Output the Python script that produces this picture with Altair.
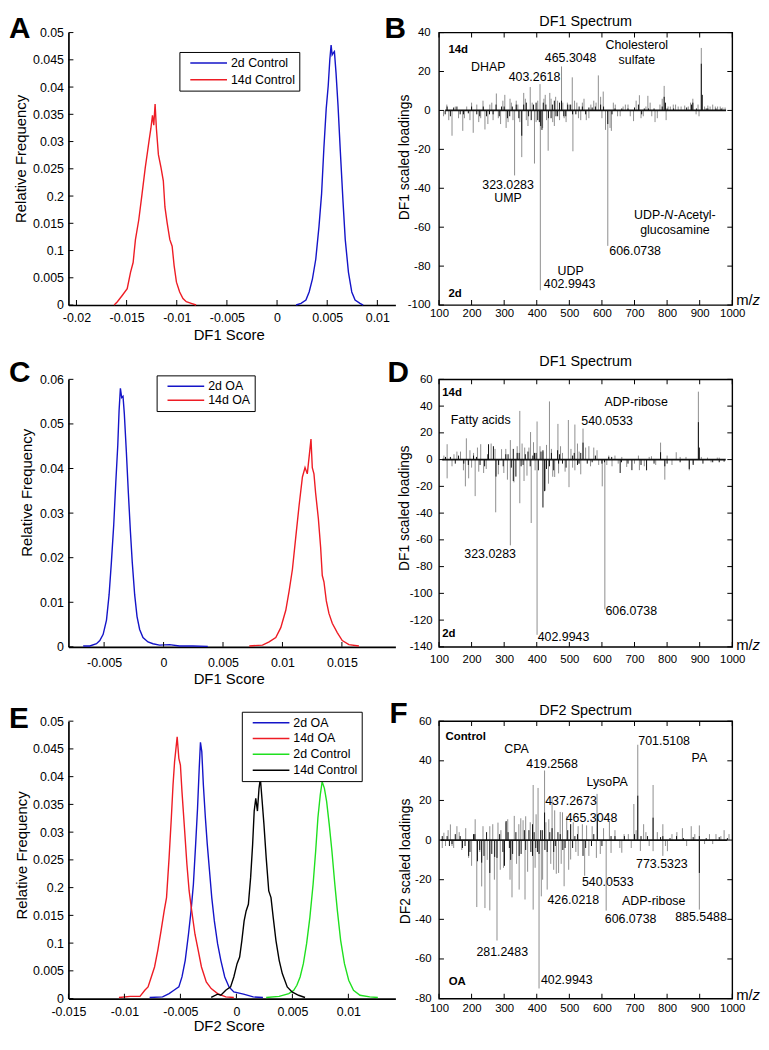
import altair as alt
import pandas as pd

FONT = "Liberation Sans"
BLUE = "#1414c8"
RED = "#ee1c24"
GREEN = "#1fe01f"
BLACK = "#000000"
GRAY = "#8e8e8e"
STICK = "#111111"

# ---------------- Panel A (DF1 score, control) ----------------
a_names = ["2d Control", "14d Control"]
a_colors = [BLUE, RED]
a_2d_x = [0.00190, 0.00239, 0.00288, 0.00320, 0.00353, 0.00386, 0.00418, 0.00444, 0.00467, 0.00490,
          0.00510, 0.00526, 0.00539, 0.00549, 0.00559, 0.00572, 0.00588, 0.00608, 0.00631, 0.00657,
          0.00680, 0.00712, 0.00745, 0.00778, 0.00827, 0.00859]
a_2d_y = [0.0000, 0.0003, 0.0009, 0.0024, 0.0048, 0.0084, 0.0144, 0.0204, 0.0288, 0.0360,
          0.0402, 0.0450, 0.0477, 0.0459, 0.0462, 0.0465, 0.0426, 0.0366, 0.0282, 0.0192,
          0.0120, 0.0060, 0.0024, 0.0009, 0.0003, 0.0000]
a_14d_x = [-0.01624, -0.01592, -0.01542, -0.01494, -0.01461, -0.01435, -0.01412, -0.01379, -0.01346,
           -0.01314, -0.01291, -0.01275, -0.01258, -0.01242, -0.01229, -0.01216, -0.01203, -0.01183,
           -0.01157, -0.01134, -0.01118, -0.01095, -0.01069, -0.01046, -0.01026, -0.01003, -0.00971,
           -0.00938, -0.00905, -0.00856, -0.00807]
a_14d_y = [0.0000, 0.0006, 0.0018, 0.0030, 0.0060, 0.0078, 0.0120, 0.0156, 0.0204, 0.0252, 0.0282,
           0.0303, 0.0324, 0.0348, 0.0330, 0.0369, 0.0324, 0.0276, 0.0252, 0.0228, 0.0180, 0.0150,
           0.0120, 0.0108, 0.0072, 0.0042, 0.0024, 0.0012, 0.0006, 0.0003, 0.0000]
a_xticks = [-0.02, -0.015, -0.01, -0.005, 0, 0.005, 0.01]
a_yticks = [0, 0.005, 0.01, 0.015, 0.02, 0.025, 0.03, 0.035, 0.04, 0.045, 0.05]

# ---------------- Panel C (DF1 score, OA) ----------------
c_names = ["2d OA", "14d OA"]
c_colors = [BLUE, RED]
c_2d_x = [-0.00676, -0.00620, -0.00564, -0.00536, -0.00508, -0.00480, -0.00458, -0.00439, -0.00419,
          -0.00402, -0.00385, -0.00374, -0.00363, -0.00352, -0.00341, -0.00330, -0.00313, -0.00296,
          -0.00279, -0.00263, -0.00243, -0.00223, -0.00201, -0.00173, -0.00131, -0.00089, -0.00034,
          0.00050, 0.00134, 0.00246, 0.00372]
c_2d_y = [0.0002, 0.0002, 0.0007, 0.0014, 0.0028, 0.0060, 0.0117, 0.0189, 0.0274, 0.0367, 0.0452,
          0.0530, 0.0580, 0.0559, 0.0562, 0.0523, 0.0438, 0.0345, 0.0260, 0.0189, 0.0117, 0.0068,
          0.0039, 0.0021, 0.0011, 0.0007, 0.0004, 0.0005, 0.0002, 0.0002, 0.0001]
c_14d_x = [0.00721, 0.00832, 0.00888, 0.00944, 0.00986, 0.01028, 0.01056, 0.01084, 0.01112, 0.01140,
           0.01168, 0.01190, 0.01209, 0.01229, 0.01240, 0.01251, 0.01265, 0.01279, 0.01302, 0.01321,
           0.01335, 0.01349, 0.01369, 0.01391, 0.01419, 0.01461, 0.01503, 0.01559, 0.01643]
c_14d_y = [0.0002, 0.0004, 0.0011, 0.0021, 0.0043, 0.0082, 0.0125, 0.0174, 0.0246, 0.0317, 0.0381,
           0.0402, 0.0388, 0.0438, 0.0466, 0.0402, 0.0388, 0.0345, 0.0288, 0.0224, 0.0160, 0.0146,
           0.0103, 0.0075, 0.0053, 0.0032, 0.0014, 0.0005, 0.0002]
c_xticks = [-0.005, 0, 0.005, 0.01, 0.015]
c_yticks = [0, 0.01, 0.02, 0.03, 0.04, 0.05, 0.06]

# ---------------- Panel E (DF2 score) ----------------
e_names = ["2d OA", "14d OA", "2d Control", "14d Control"]
e_colors = [BLUE, RED, GREEN, BLACK]
e_2doa_x = [-0.00775, -0.00659, -0.00601, -0.00558, -0.00514, -0.00486, -0.00457, -0.00428, -0.00405,
            -0.00384, -0.00364, -0.00347, -0.00332, -0.00321, -0.00309, -0.00295, -0.00277, -0.00260,
            -0.00240, -0.00220, -0.00197, -0.00168, -0.00139, -0.00104, -0.00066, -0.00023, 0.00064,
            0.00150, 0.00237]
e_2doa_y = [0.0002, 0.0003, 0.0009, 0.0015, 0.0021, 0.0039, 0.0069, 0.0116, 0.0158, 0.0206, 0.0278,
            0.0343, 0.0415, 0.0462, 0.0445, 0.0385, 0.0326, 0.0278, 0.0230, 0.0182, 0.0140, 0.0099,
            0.0069, 0.0039, 0.0021, 0.0012, 0.0008, 0.0003, 0.0002]
e_14doa_x = [-0.01049, -0.00948, -0.00861, -0.00818, -0.00789, -0.00760, -0.00731, -0.00702, -0.00673,
             -0.00645, -0.00624, -0.00601, -0.00581, -0.00566, -0.00552, -0.00538, -0.00529, -0.00514,
             -0.00500, -0.00486, -0.00462, -0.00442, -0.00422, -0.00399, -0.00370, -0.00341, -0.00312,
             -0.00269, -0.00225, -0.00168, -0.00095, -0.00023]
e_14doa_y = [0.0002, 0.0004, 0.0004, 0.0015, 0.0021, 0.0039, 0.0057, 0.0087, 0.0122, 0.0158, 0.0182,
             0.0254, 0.0326, 0.0385, 0.0427, 0.0454, 0.0472, 0.0433, 0.0421, 0.0373, 0.0302, 0.0242,
             0.0194, 0.0158, 0.0116, 0.0087, 0.0057, 0.0030, 0.0018, 0.0009, 0.0003, 0.0002]
e_2dc_x = [0.00266, 0.00382, 0.00468, 0.00512, 0.00540, 0.00569, 0.00598, 0.00627, 0.00656, 0.00685,
           0.00708, 0.00728, 0.00749, 0.00766, 0.00786, 0.00806, 0.00829, 0.00853, 0.00879, 0.00902,
           0.00931, 0.00965, 0.01003, 0.01046, 0.01104, 0.01191, 0.01263]
e_2dc_y = [0.0002, 0.0004, 0.0009, 0.0015, 0.0024, 0.0039, 0.0063, 0.0099, 0.0146, 0.0206, 0.0266,
           0.0326, 0.0367, 0.0391, 0.0379, 0.0355, 0.0314, 0.0266, 0.0206, 0.0158, 0.0105, 0.0063,
           0.0033, 0.0015, 0.0006, 0.0003, 0.0002]
e_14dc_x = [-0.00225, -0.00168, -0.00139, -0.00095, -0.00052, -0.00023, 0.00006, 0.00029, 0.00049,
            0.00069, 0.00087, 0.00107, 0.00127, 0.00145, 0.00159, 0.00173, 0.00188, 0.00202, 0.00214,
            0.00228, 0.00246, 0.00266, 0.00289, 0.00309, 0.00329, 0.00353, 0.00382, 0.00410, 0.00454,
            0.00497, 0.00555, 0.00613]
e_14dc_y = [0.0002, 0.0008, 0.0006, 0.0015, 0.0021, 0.0039, 0.0063, 0.0075, 0.0105, 0.0140, 0.0158,
            0.0170, 0.0218, 0.0278, 0.0338, 0.0361, 0.0338, 0.0379, 0.0397, 0.0361, 0.0314, 0.0254,
            0.0194, 0.0182, 0.0146, 0.0105, 0.0069, 0.0045, 0.0021, 0.0012, 0.0006, 0.0002]
e_xticks = [-0.015, -0.01, -0.005, 0, 0.005, 0.01]
e_yticks = [0, 0.005, 0.01, 0.015, 0.02, 0.025, 0.03, 0.035, 0.04, 0.045, 0.05]

# ---------------- Panel B (DF1 spectrum, control) ----------------
b_gray_mz = [114, 124, 140, 150, 160, 173, 185, 195, 205, 216, 228, 241, 256, 266, 276, 289, 302, 312,
             322, 332, 342, 354, 365, 373, 380, 393, 403, 410, 411, 426, 435, 444, 454, 464, 476, 484,
             494, 509, 511, 523, 535, 545, 560, 575, 589, 604, 611, 618, 629, 641, 656, 672, 687, 697,
             715, 727, 741, 753, 763, 778, 791, 803, 819, 834, 854, 879, 889, 905, 915, 925, 940, 955, 971]
b_gray_v = [-3, 3, -13, 2, -4, -10.5, 2, -5, -11.5, 3, -4, -9.8, 3, -5, 8.7, -7, 8, -6, 4, -33.4, 3, -24,
            6, -8, 12, -27.3, 5, 13.5, -92.4, 8, -20.7, 6, -8, 5, 22.6, -4, 4, 17, -21, 4, -5, 6, -4, 5,
            18, 9.7, -10, -69.6, -10.5, 3, -3, 3, -3, -5.5, 7.8, -3, 7.5, -3, -6, 3, 12.6, 2, 3, 2, 2.5,
            6, -2, 32.1, 2, 2.5, 3, 2, 1.5]
b_gray_small_mz = [130, 178, 200, 222, 235, 250, 262, 282, 296, 306, 318, 327, 337, 348, 360, 368, 386,
                   398, 418, 422, 430, 440, 449, 458, 470, 480, 490, 500, 516, 528, 540, 552, 566, 582,
                   596, 600, 625, 635, 648, 665, 680, 705, 720, 735, 748, 770, 785, 797, 810, 826, 843,
                   865, 872, 895, 898, 932, 948, 963, 978]
b_gray_small_v = [-5, -4, 4, -6, 5, -7, 4, -4, 5, -9, 6, -5, 5, -6, 9, -5, 4, -6, -9, 6, -5, 9, -6, 7,
                  -5, 4, -6, 3, 5, -4, 4, -5, 3, 4, 7, -4, -9, 4, -3, 2, 3, 5, -4, 2, 4, -4, 6, -5, 2,
                  3, 2, 2, 4, 3, -3, 2, 2, 2, 1.5]
b_blk_mz = [119, 145, 165, 190, 216, 246, 266, 292, 317, 337, 354, 368, 383, 398, 408, 416, 428, 444,
            454, 464, 476, 489, 504, 520, 540, 560, 580, 596, 618, 631, 661, 712, 722, 743, 791, 795,
            879, 905, 908, 925, 966]
b_blk_v = [-2, 1.5, -2, -1.5, -2, -3, -2, 2, -3, 3, -13, 4, -5, 4, -6, -10, 3, -4, 5, -3, 5, -3, 3, -2,
           2, 1.5, 2, 3, -7, -2, 1, 3, -2, 1, 7, 4, 4, 24, 8, 1, 1]
b_blk_small_mz = [125, 135, 155, 175, 200, 225, 236, 255, 275, 285, 300, 310, 325, 345, 360, 375, 390,
                  403, 412, 420, 436, 448, 459, 470, 483, 495, 510, 530, 550, 570, 605, 640, 680, 700,
                  730, 760, 785, 800, 820, 860, 875, 890, 920, 950]
b_blk_small_v = [2, -3, 2, -2, 2, -3, 2, -2, 3, -3, 2, -4, 2, -4, 3, -3, 3, -5, -8, 4, -4, 3, -3, 4, -3,
                 3, -2, 2, -2, 1.5, 2, 1, 1, 1.5, 1, 1, 2, 1, 1, 1.5, 3, 1, 1, 1]
b_base = [119, 981]
b_ydom = [-100, 40.01]
b_yticks = [-100, -80, -60, -40, -20, 0, 20, 40]
b_ann_text = ["DHAP", "403.2618", "465.3048", "Cholesterol", "sulfate", "323.0283", "UMP",
              "glucosamine", "606.0738", "UDP", "402.9943"]
b_ann_mz = [251, 393, 504, 707, 707, 312, 312, 824, 702, 504, 501]
b_ann_v = [22.3, 17.2, 27.0, 33.6, 25.7, -38.1, -44.8, -61.5, -72.5, -82.3, -89.0]
b_bold_text = ["14d", "2d"]
b_bold_mz = [129, 129]
b_bold_v = [31.2, -94.1]

# ---------------- Panel D (DF1 spectrum, OA) ----------------
d_gray_mz = [125, 184, 228, 252, 292, 319, 348, 381, 401, 439, 465, 497, 517, 542, 560, 575, 780, 828, 896,
             146, 166, 206, 272, 363, 419, 479, 530, 621, 661, 712, 752, 858, 924, 954,
             125, 181, 191, 211, 237, 274, 299, 319, 348, 361, 383, 401, 426, 449, 467, 499, 517, 527,
             601, 609, 631, 676, 715, 793, 868]
d_gray_v = [11.5, 15.9, 11.5, 10, 7.8, 14.6, 36.4, 20.6, 28.5, 43.5, 26.7, 29.6, 26.2, 23.2, 10, 9, 12.7,
            5.5, 50.8,
            4, 6, 5, 8, 9, 6, 5, 6, 3, 2, 3, 2.5, 2, 1.5, 1.5,
            -14, -20, -14, -27.3, -10, -39.4, -10, -64.1, -32.6, -16, -47.4, -131, -23.2, -12.8, -10.3,
            -20.6, -8, -3, -20, -112, -5, -5.5, -7.9, -15, -8]
d_gray_small_mz = [115, 140, 155, 175, 195, 200, 218, 222, 245, 260, 282, 305, 310, 330, 340, 355, 370,
                   376, 390, 395, 410, 430, 436, 445, 455, 473, 487, 505, 510, 525, 535, 550, 565, 585,
                   590, 615, 640, 650, 700, 730, 745, 765, 800, 815, 840, 880, 905, 935, 960]
d_gray_small_v = [3, -5, 6, -8, 7, -6, 9, -9, -7, 12, -11, 8, -15, -17, 10, 12, -12, 9, 13, -8, 10, 11,
                  -18, 8, -13, 10, -9, 8, -6, 12, -11, 9, -5, 7, -4, -4, 3, -3, -3, -5, 2, -4, 3, -4,
                  2, -3, 2, -2, 1.5]
d_blk_mz = [252, 267, 328, 346, 373, 398, 419, 464, 542, 780, 896, 899,
            135, 176, 206, 226, 297, 312, 358, 388, 439, 479, 510, 570, 621, 656, 692, 737, 793, 868,
            275, 328, 336, 419, 424, 467, 530, 608]
d_blk_v = [11.5, 10, 8, 5, 6, 5, 7, 7, 12.7, 5.5, 28, 9,
           2, -3, 3, -4, -5, 4, -4, 3, -5, -3, 3, -2, 2, -10, -7.9, -8, -5, -7,
           -12.7, -16, -12.7, -35.8, -23.6, -3, -3, -2]
d_blk_small_mz = [120, 150, 160, 190, 215, 240, 250, 283, 305, 322, 340, 352, 365, 380, 393, 405, 413,
                  430, 445, 452, 470, 490, 515, 525, 535, 555, 580, 600, 630, 660, 680, 720, 760, 800,
                  840, 880, 910, 940, 960, 975]
d_blk_small_v = [2, -3, 3, -4, 2, -5, 4, -4, 4, -6, 5, -5, 4, -5, 5, -8, 6, -7, 5, -8, 4, -6, 5, -4, 5,
                 -3, 3, -3, 2, -2, -3, -4, -3, -3, -2, -4, -3, -2, -2, -1.5]
d_base = [110, 980]
d_ydom = [-140, 60.01]
d_yticks = [-140, -120, -100, -80, -60, -40, -20, 0, 20, 40, 60]
d_ann_text = ["ADP-ribose", "Fatty acids", "540.0533", "323.0283", "606.0738", "402.9943"]
d_ann_mz = [705, 228, 616, 257, 690, 482]
d_ann_v = [43, 29.7, 28.5, -70.9, -113.3, -132.7]
d_bold_text = ["14d", "2d"]
d_bold_mz = [110, 110]
d_bold_v = [49.6, -130.3]

# ---------------- Panel F (DF2 spectrum) ----------------
f_gray_mz = [115, 135, 155, 211, 256, 281, 311, 331, 351, 366, 389, 404, 424, 437, 447, 472, 479, 504,
             527, 553, 585, 623, 681, 698, 710, 728, 757, 787, 847, 874, 899, 950, 965,
             120, 145, 191, 216, 231, 241, 256, 278, 288, 324, 346, 364, 389, 407, 414, 432, 452, 467,
             484, 504, 527, 547, 583, 613, 628, 661, 718, 757, 787, 801, 899]
f_gray_v = [3.7, 7.9, 7, 10.5, 7, 8.8, 10.5, 12.2, 11, 12, 27.8, 26.3, 35.1, 10.5, 21.6, 14.2, 14, 8, 7,
            7.4, 23.3, 9.6, 3, 18.2, 48.1, 8, 27.8, 8, 6, 7, 7.4, 3, 2,
            -3, -4, -9, -33.8, -23.4, -34.3, -35.5, -50.7, -15, -28.9, -25, -30, -35.1, -74.9, -28.4,
            -25, -15, -16.6, -23.3, -9.8, -8, -18, -9, -35.6, -6.5, -6.4, -5.5, -5.6, -8, -5.6, -35.1]
f_gray_small_mz = [110, 128, 140, 162, 170, 182, 200, 225, 235, 248, 265, 270, 290, 298, 305, 318, 338,
                   345, 358, 372, 380, 395, 398, 418, 428, 443, 455, 460, 475, 492, 498, 512, 520, 540,
                   560, 570, 595, 605, 640, 655, 668, 690, 705, 735, 745, 770, 795, 815, 830, 860, 885,
                   915, 930, 940, 975, 990]
f_gray_small_v = [-4, 5, -3, 4, -5, 6, -13, -6, 7, -10, 8, -20, 5, -14, 9, -20, -12, 8, 10, -16, 9, -14,
                  13, -20, 9, -12, 15, -17, -12, 12, -15, 9, -6, 8, -8, 7, -7, 6, 5, -4, 3, -4, 5, 4,
                  -3, 4, -3, 3, 4, -3, 3, -2, 3, -2, 5, 3]
f_blk_mz = [306, 387, 424, 447, 504, 586, 710, 757, 787, 899,
            191, 218, 231, 256, 271, 301, 326, 346, 387, 407, 432, 542, 899,
            125, 140, 165, 180, 206, 246, 286, 316, 336, 366, 376, 397, 417, 457, 472, 487, 517, 568,
            628, 669, 809, 829]
f_blk_v = [9.6, 8, 13.9, 6, 8, 13, 22.4, 11.3, 2, 2,
           -8, -10.7, -11.4, -16.6, -8.5, -13, -7, -8, -8, -7, -6, -8, -16.6,
           2, -2, 2, -3, 3, 4, 3, -4, 4, -5, 5, -4, 5, -3, 3, -4, 2, -3, 2, 2, 1, 2]
f_blk_small_mz = [110, 132, 150, 172, 195, 210, 225, 238, 262, 278, 296, 312, 320, 352, 362, 382, 392,
                  402, 412, 425, 440, 452, 465, 480, 495, 510, 525, 550, 575, 600, 640, 700, 720, 740,
                  780, 850, 880, 920, 960, 985]
f_blk_small_v = [2, -3, 3, -4, -6, 3, -5, -8, -7, -9, -6, 4, -10, -7, 5, -6, 4, -6, 5, -5, 4, -6, 4, -5,
                 5, -4, 3, -4, 3, -3, 2, 3, 2, 2, 1.5, 1, 1.5, 1, 1.5, 1]
f_base = [105, 985]
f_ydom = [-80, 60.01]
f_yticks = [-80, -60, -40, -20, 0, 20, 40, 60]
f_ann_text = ["CPA", "419.2568", "701.5108", "PA", "LysoPA", "437.2673", "465.3048", "773.5323",
              "540.0533", "426.0218", "ADP-ribose", "606.0738", "885.5488", "281.2483", "402.9943"]
f_ann_mz = [338, 447, 791, 899, 616, 505, 568, 784, 618, 512, 759, 688, 904, 294, 492]
f_ann_v = [46.1, 38.5, 49.8, 41.5, 29.5, 19.9, 11.1, -12.3, -21.3, -30.1, -30.9, -39.7, -39.0, -56.6, -70.4]
f_bold_text = ["Control", "OA"]
f_bold_mz = [120, 130]
f_bold_v = [52, -71.5]

MZ_TICKS = [100, 200, 300, 400, 500, 600, 700, 800, 900, 1000]
MINUS_FIX = "replace(format(datum.value, '.3~f'), '\u2212', '-')"
TYPO_LABELS = ("abs(datum.value-0.01)<1e-9 ? '0.1' : abs(datum.value-0.02)<1e-9 ? '0.2' : "
               "format(datum.value, '.3~f')")
LEG_SYMBOL = "M0,0H6.17"
TICK_LEN = 5


def hist_frame(names, xs_list, ys_list):
    rows = []
    for n, xs, ys in zip(names, xs_list, ys_list):
        for x, y in zip(xs, ys):
            rows.append({"series": n, "score": x, "freq": y})
    return pd.DataFrame(rows)


def letter_layer(ch, dx, baseline_y):
    return alt.Chart(pd.DataFrame({"t": [ch]})).mark_text(
        fontSize=30, fontWeight="bold", align="left", baseline="alphabetic", color="black"
    ).encode(text="t:N", x=alt.value(dx), y=alt.value(baseline_y))


def inward_ticks(xf, yf, x, y, xvals, yvals, xdom, ydom, box):
    """Small inward tick marks at the tick values (MATLAB style)."""
    out = []
    bot = pd.DataFrame({xf: xvals, yf: [ydom[0]] * len(xvals)})
    lef = pd.DataFrame({xf: [xdom[0]] * len(yvals), yf: yvals})
    out.append(alt.Chart(bot).mark_tick(orient="vertical", size=TICK_LEN, thickness=1, color="black",
                                        yOffset=-TICK_LEN / 2, opacity=1).encode(x=x, y=y))
    out.append(alt.Chart(lef).mark_tick(orient="horizontal", size=TICK_LEN, thickness=1, color="black",
                                        xOffset=TICK_LEN / 2, opacity=1).encode(x=x, y=y))
    if box:
        top = pd.DataFrame({xf: xvals, yf: [ydom[1]] * len(xvals)})
        rig = pd.DataFrame({xf: [xdom[1]] * len(yvals), yf: yvals})
        out.append(alt.Chart(top).mark_tick(orient="vertical", size=TICK_LEN, thickness=1, color="black",
                                            yOffset=TICK_LEN / 2, opacity=1).encode(x=x, y=y))
        out.append(alt.Chart(rig).mark_tick(orient="horizontal", size=TICK_LEN, thickness=1,
                                            color="black", xOffset=-TICK_LEN / 2, opacity=1).encode(x=x, y=y))
    return out


def hist_panel(df, names, colors, xdom, xticks, ydom, yticks, ylabel_expr, xtitle, w, h,
               ytitle_x, ytitle_y, xtitle_y, xlab_pad, lx, ly, row_pad, letter, ldx, ldy):
    x = alt.X("score:Q", scale=alt.Scale(domain=xdom, nice=False, zero=False),
              axis=alt.Axis(values=xticks, title=xtitle, labelExpr=MINUS_FIX, labelFontSize=12.5,
                            labelPadding=xlab_pad, labelFlush=False, labelOverlap=False,
                            titleFontSize=15, titleX=w * 0.49, titleY=xtitle_y,
                            domainColor="black", domainWidth=1.7, ticks=False, grid=False))
    y = alt.Y("freq:Q", scale=alt.Scale(domain=ydom, nice=False, zero=False),
              axis=alt.Axis(values=yticks, title="Relative Frequency", labelExpr=ylabel_expr,
                            labelFontSize=12.5, labelPadding=5, labelFlush=False, labelOverlap=False,
                            titleFontSize=15, titleX=ytitle_x, titleY=ytitle_y,
                            domainColor="black", domainWidth=1.7, ticks=False, grid=False))
    lines = alt.Chart(df).mark_line(strokeWidth=1.4).encode(
        x=x, y=y,
        color=alt.Color("series:N", scale=alt.Scale(domain=names, range=colors),
                        legend=alt.Legend(orient="none", legendX=lx, legendY=ly, direction="vertical",
                                          title="", symbolType=LEG_SYMBOL, symbolSize=144,
                                          symbolStrokeWidth=1.5, labelFontSize=12.5, labelColor="black",
                                          labelOffset=34, rowPadding=row_pad, padding=4,
                                          strokeColor="black", fillColor="white")))
    ticks = inward_ticks("score", "freq", x, y, xticks, yticks, xdom, ydom, box=False)
    return alt.layer(lines, *ticks, letter_layer(letter, ldx, ldy)).properties(width=w, height=h)


def spec_panel(gmz, gv, kmz, kv, base, ydom, yticks, ytitle, title, w, h, ytitle_x, ytitle_y,
               xlab_pad, ylab_pad, title_dy, ann_t, ann_mz, ann_v, bold_t, bold_mz, bold_v,
               mz_dy, letter, ldx, ldy, extra=None):
    x = alt.X("mz:Q", scale=alt.Scale(domain=[100, 1000], nice=False, zero=False),
              axis=alt.Axis(values=MZ_TICKS, title="", format="d", labelFontSize=11.5,
                            labelPadding=xlab_pad, labelFlush=False, labelOverlap=False, domain=False,
                            ticks=False, grid=False))
    y = alt.Y("v:Q", scale=alt.Scale(domain=ydom, nice=False, zero=False),
              axis=alt.Axis(values=yticks, title=ytitle, labelFontSize=11.5, labelPadding=ylab_pad,
                            labelExpr=MINUS_FIX, labelFlush=False, labelOverlap=False, labelBound=False,
                            titleFontSize=14, titleX=ytitle_x, titleY=ytitle_y,
                            domain=False, ticks=False, grid=False))
    gdf = pd.DataFrame({"mz": gmz, "v": gv})
    kdf = pd.DataFrame({"mz": kmz, "v": kv})
    base_df = pd.DataFrame({"mz": [base[0]], "mz2": [base[1]], "v": [0]})
    gray = alt.Chart(gdf).mark_rule(color=GRAY, strokeWidth=1).encode(x=x, y=y, y2=alt.datum(0))
    blk = alt.Chart(kdf).mark_rule(color=STICK, strokeWidth=1).encode(x=x, y=y, y2=alt.datum(0))
    baseline = alt.Chart(base_df).mark_rule(color=STICK, strokeWidth=1.8).encode(
        x=x, x2="mz2:Q", y=y)
    ann = alt.Chart(pd.DataFrame({"mz": ann_mz, "v": ann_v, "label": ann_t})).mark_text(
        fontSize=12.5, align="center", baseline="middle", color="black").encode(x=x, y=y, text="label:N")
    bold = alt.Chart(pd.DataFrame({"mz": bold_mz, "v": bold_v, "label": bold_t})).mark_text(
        fontSize=11.5, fontWeight="bold", align="left", baseline="middle", color="black").encode(
        x=x, y=y, text="label:N")
    corner = pd.DataFrame({"mz": [1000], "v": [ydom[0]], "label": ["m/"], "z": ["z"]})
    mz1 = alt.Chart(corner).mark_text(fontSize=15, align="left", baseline="middle", dx=4, dy=mz_dy,
                                      color="black").encode(x=x, y=y, text="label:N")
    mz2 = alt.Chart(corner).mark_text(fontSize=15, fontStyle="italic", align="left", baseline="middle",
                                      dx=20.5, dy=mz_dy, color="black").encode(x=x, y=y, text="z:N")
    ttl = alt.Chart(pd.DataFrame({"t": [title]})).mark_text(
        fontSize=14.5, align="center", baseline="middle", color="black").encode(
        text="t:N", x=alt.value(w / 2), y=alt.value(title_dy))
    ticks = inward_ticks("mz", "v", x, y, MZ_TICKS, yticks, [100, 1000], ydom, box=True)
    layers = [gray, blk, baseline, *ticks, ann, bold, mz1, mz2, ttl, letter_layer(letter, ldx, ldy)]
    if extra is not None:
        layers.extend(extra(x, y))
    return alt.layer(*layers).properties(
        width=w, height=h, view=alt.ViewBackground(stroke="black", strokeWidth=1.4))


def udp_extra(x, y):
    p = pd.DataFrame({"mz": [822], "v": [-53.9], "a": ["UDP-"], "n": ["N"], "b": ["-Acetyl-"]})
    m1 = alt.Chart(p).mark_text(fontSize=12.5, align="right", baseline="middle", dx=-10,
                                color="black").encode(x=x, y=y, text="a:N")
    m2 = alt.Chart(p).mark_text(fontSize=12.5, fontStyle="italic", align="left", baseline="middle",
                                dx=-10, color="black").encode(x=x, y=y, text="n:N")
    m3 = alt.Chart(p).mark_text(fontSize=12.5, align="left", baseline="middle", dx=-0.5,
                                color="black").encode(x=x, y=y, text="b:N")
    return [m1, m2, m3]


LW = 330
RW = 296
H1, H2, H3 = 275, 270, 280

A = hist_panel(hist_frame(a_names, [a_2d_x, a_14d_x], [a_2d_y, a_14d_y]), a_names, a_colors,
               [-0.0208, 0.0118], a_xticks, [0, 0.05], a_yticks, TYPO_LABELS, "DF1 Score", LW, H1,
               -40, 127, 23, 6.3, 112, 19.6, 3, "A", -60, 5)
C = hist_panel(hist_frame(c_names, [c_2d_x, c_14d_x], [c_2d_y, c_14d_y]), c_names, c_colors,
               [-0.008, 0.0195], c_xticks, [0, 0.06], c_yticks, "format(datum.value, '.2~f')",
               "DF1 Score", LW, H2, -34.5, 114, 24.8, 9.5, 89, -4, 0, "C", -60, 3)
E = hist_panel(hist_frame(e_names, [e_2doa_x, e_14doa_x, e_2dc_x, e_14dc_x],
                          [e_2doa_y, e_14doa_y, e_2dc_y, e_14dc_y]), e_names, e_colors,
               [-0.015, 0.0142], e_xticks, [0, 0.05], e_yticks, TYPO_LABELS, "DF2 Score", LW, H3,
               -39, 135, 20.5, 7, 175, -9.5, 2, "E", -60, 7)

B = spec_panel(b_gray_mz + b_gray_small_mz, b_gray_v + b_gray_small_v,
               b_blk_mz + b_blk_small_mz, b_blk_v + b_blk_small_v, b_base, b_ydom, b_yticks,
               "DF1 scaled loadings", "DF1 Spectrum", RW, H1, -28, 125.5, 3, 9, -11,
               b_ann_text, b_ann_mz, b_ann_v, b_bold_text, b_bold_mz, b_bold_v, -5, "B", -55, 5,
               extra=udp_extra)
D = spec_panel(d_gray_mz + d_gray_small_mz, d_gray_v + d_gray_small_v,
               d_blk_mz + d_blk_small_mz, d_blk_v + d_blk_small_v, d_base, d_ydom, d_yticks,
               "DF1 scaled loadings", "DF1 Spectrum", RW, H2, -28, 129.6, 7, 7, -17.5,
               d_ann_text, d_ann_mz, d_ann_v, d_bold_text, d_bold_mz, d_bold_v, -2, "D", -52, 3)
F = spec_panel(f_gray_mz + f_gray_small_mz, f_gray_v + f_gray_small_v,
               f_blk_mz + f_blk_small_mz, f_blk_v + f_blk_small_v, f_base, f_ydom, f_yticks,
               "DF2 scaled loadings", "DF2 Spectrum", RW, H3, -27, 141, 4, 8, -10,
               f_ann_text, f_ann_mz, f_ann_v, f_bold_text, f_bold_mz, f_bold_v, -4, "F", -50, 2)

chart = alt.concat(A, B, C, D, E, F, columns=2, spacing={"row": 75, "column": 44}, bounds="flush"
                   ).resolve_scale(color="independent").resolve_legend(color="independent").properties(
    padding=0, background="white"
).configure(font=FONT).configure_view(stroke="transparent").configure_axis(
    labelFont=FONT, titleFont=FONT, labelColor="black", titleColor="black", titleFontWeight="normal"
).configure_legend(labelFont=FONT)

chart.save("out.html", embed_options={"renderer": "svg", "actions": False})
